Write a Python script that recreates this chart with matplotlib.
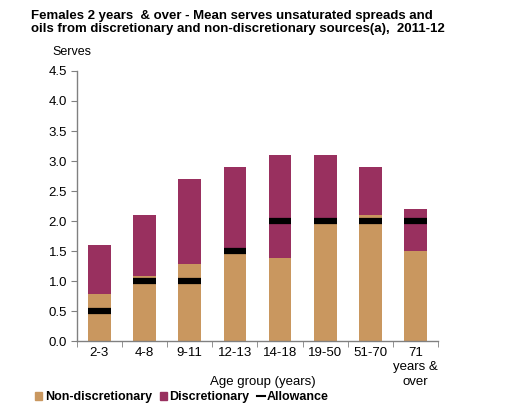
import matplotlib
matplotlib.use("Agg")
import matplotlib.pyplot as plt
import numpy as np
from matplotlib.lines import Line2D
from matplotlib.patches import Patch

plt.rcParams['font.family'] = ['Liberation Sans', 'DejaVu Sans']

categories = ["2-3", "4-8", "9-11", "12-13", "14-18", "19-50", "51-70", "71\nyears &\nover"]
non_discretionary = [0.78, 1.08, 1.28, 1.45, 1.38, 1.95, 2.10, 1.50]
totals = [1.6, 2.1, 2.7, 2.9, 3.1, 3.1, 2.9, 2.2]
discretionary = [t - n for t, n in zip(totals, non_discretionary)]
allowance = [0.5, 1.0, 1.0, 1.5, 2.0, 2.0, 2.0, 2.0]

tan = "#C9975F"
maroon = "#99305F"

fig = plt.figure(figsize=(5.26, 4.15), dpi=100)
ax = fig.add_axes([0.146, 0.178, 0.687, 0.651])

x = np.arange(len(categories))
w = 0.5
ax.bar(x, non_discretionary, width=w, color=tan, zorder=2)
ax.bar(x, discretionary, width=w, bottom=non_discretionary, color=maroon, zorder=2)
ax.hlines(allowance, x - w / 2, x + w / 2, colors="black", linewidth=4.5, zorder=3)

ax.set_xlim(-0.5, len(categories) - 0.5)
ax.set_ylim(0, 4.5)
ax.set_yticks(np.arange(0, 4.51, 0.5))
ax.set_yticklabels([f"{v:.1f}" for v in np.arange(0, 4.51, 0.5)], fontsize=9.5)
ax.set_xticks(x)
ax.set_xticklabels(categories, fontsize=9.5, linespacing=1.3, va="top")
ax.set_xticks(np.arange(-0.5, len(categories), 1), minor=True)
ax.tick_params(axis="x", which="major", length=0, pad=4)
ax.tick_params(axis="x", which="minor", length=4, color="#808080", direction="out")
ax.tick_params(axis="y", length=4, color="#808080", direction="out", pad=3)

for s in ["top", "right"]:
    ax.spines[s].set_visible(False)
for s in ["left", "bottom"]:
    ax.spines[s].set_color("#808080")
    ax.spines[s].set_linewidth(1.0)

fig.text(0.059, 0.975, "Females 2 years  & over - Mean serves unsaturated spreads and\noils from discretionary and non-discretionary sources(a),  2011-12",
         fontsize=9.5, fontweight="bold", va="top", ha="left", linespacing=1.1)
fig.text(0.099, 0.875, "Serves", fontsize=9, va="center", ha="left")
fig.text(0.50, 0.079, "Age group (years)", fontsize=9.5, ha="center", va="center")

handles = [Patch(color=tan), Patch(color=maroon),
           Line2D([0], [0], color="black", linewidth=1.5)]
labels = ["Non-discretionary", "Discretionary", "Allowance"]
leg = fig.legend(handles, labels, loc="center left", bbox_to_anchor=(0.045, 0.043),
                 ncol=3, frameon=False, handlelength=0.6, handleheight=0.6,
                 handletextpad=0.2, columnspacing=0.6,
                 prop={"weight": "bold", "size": 9})

fig.savefig("out.png", dpi=100)
